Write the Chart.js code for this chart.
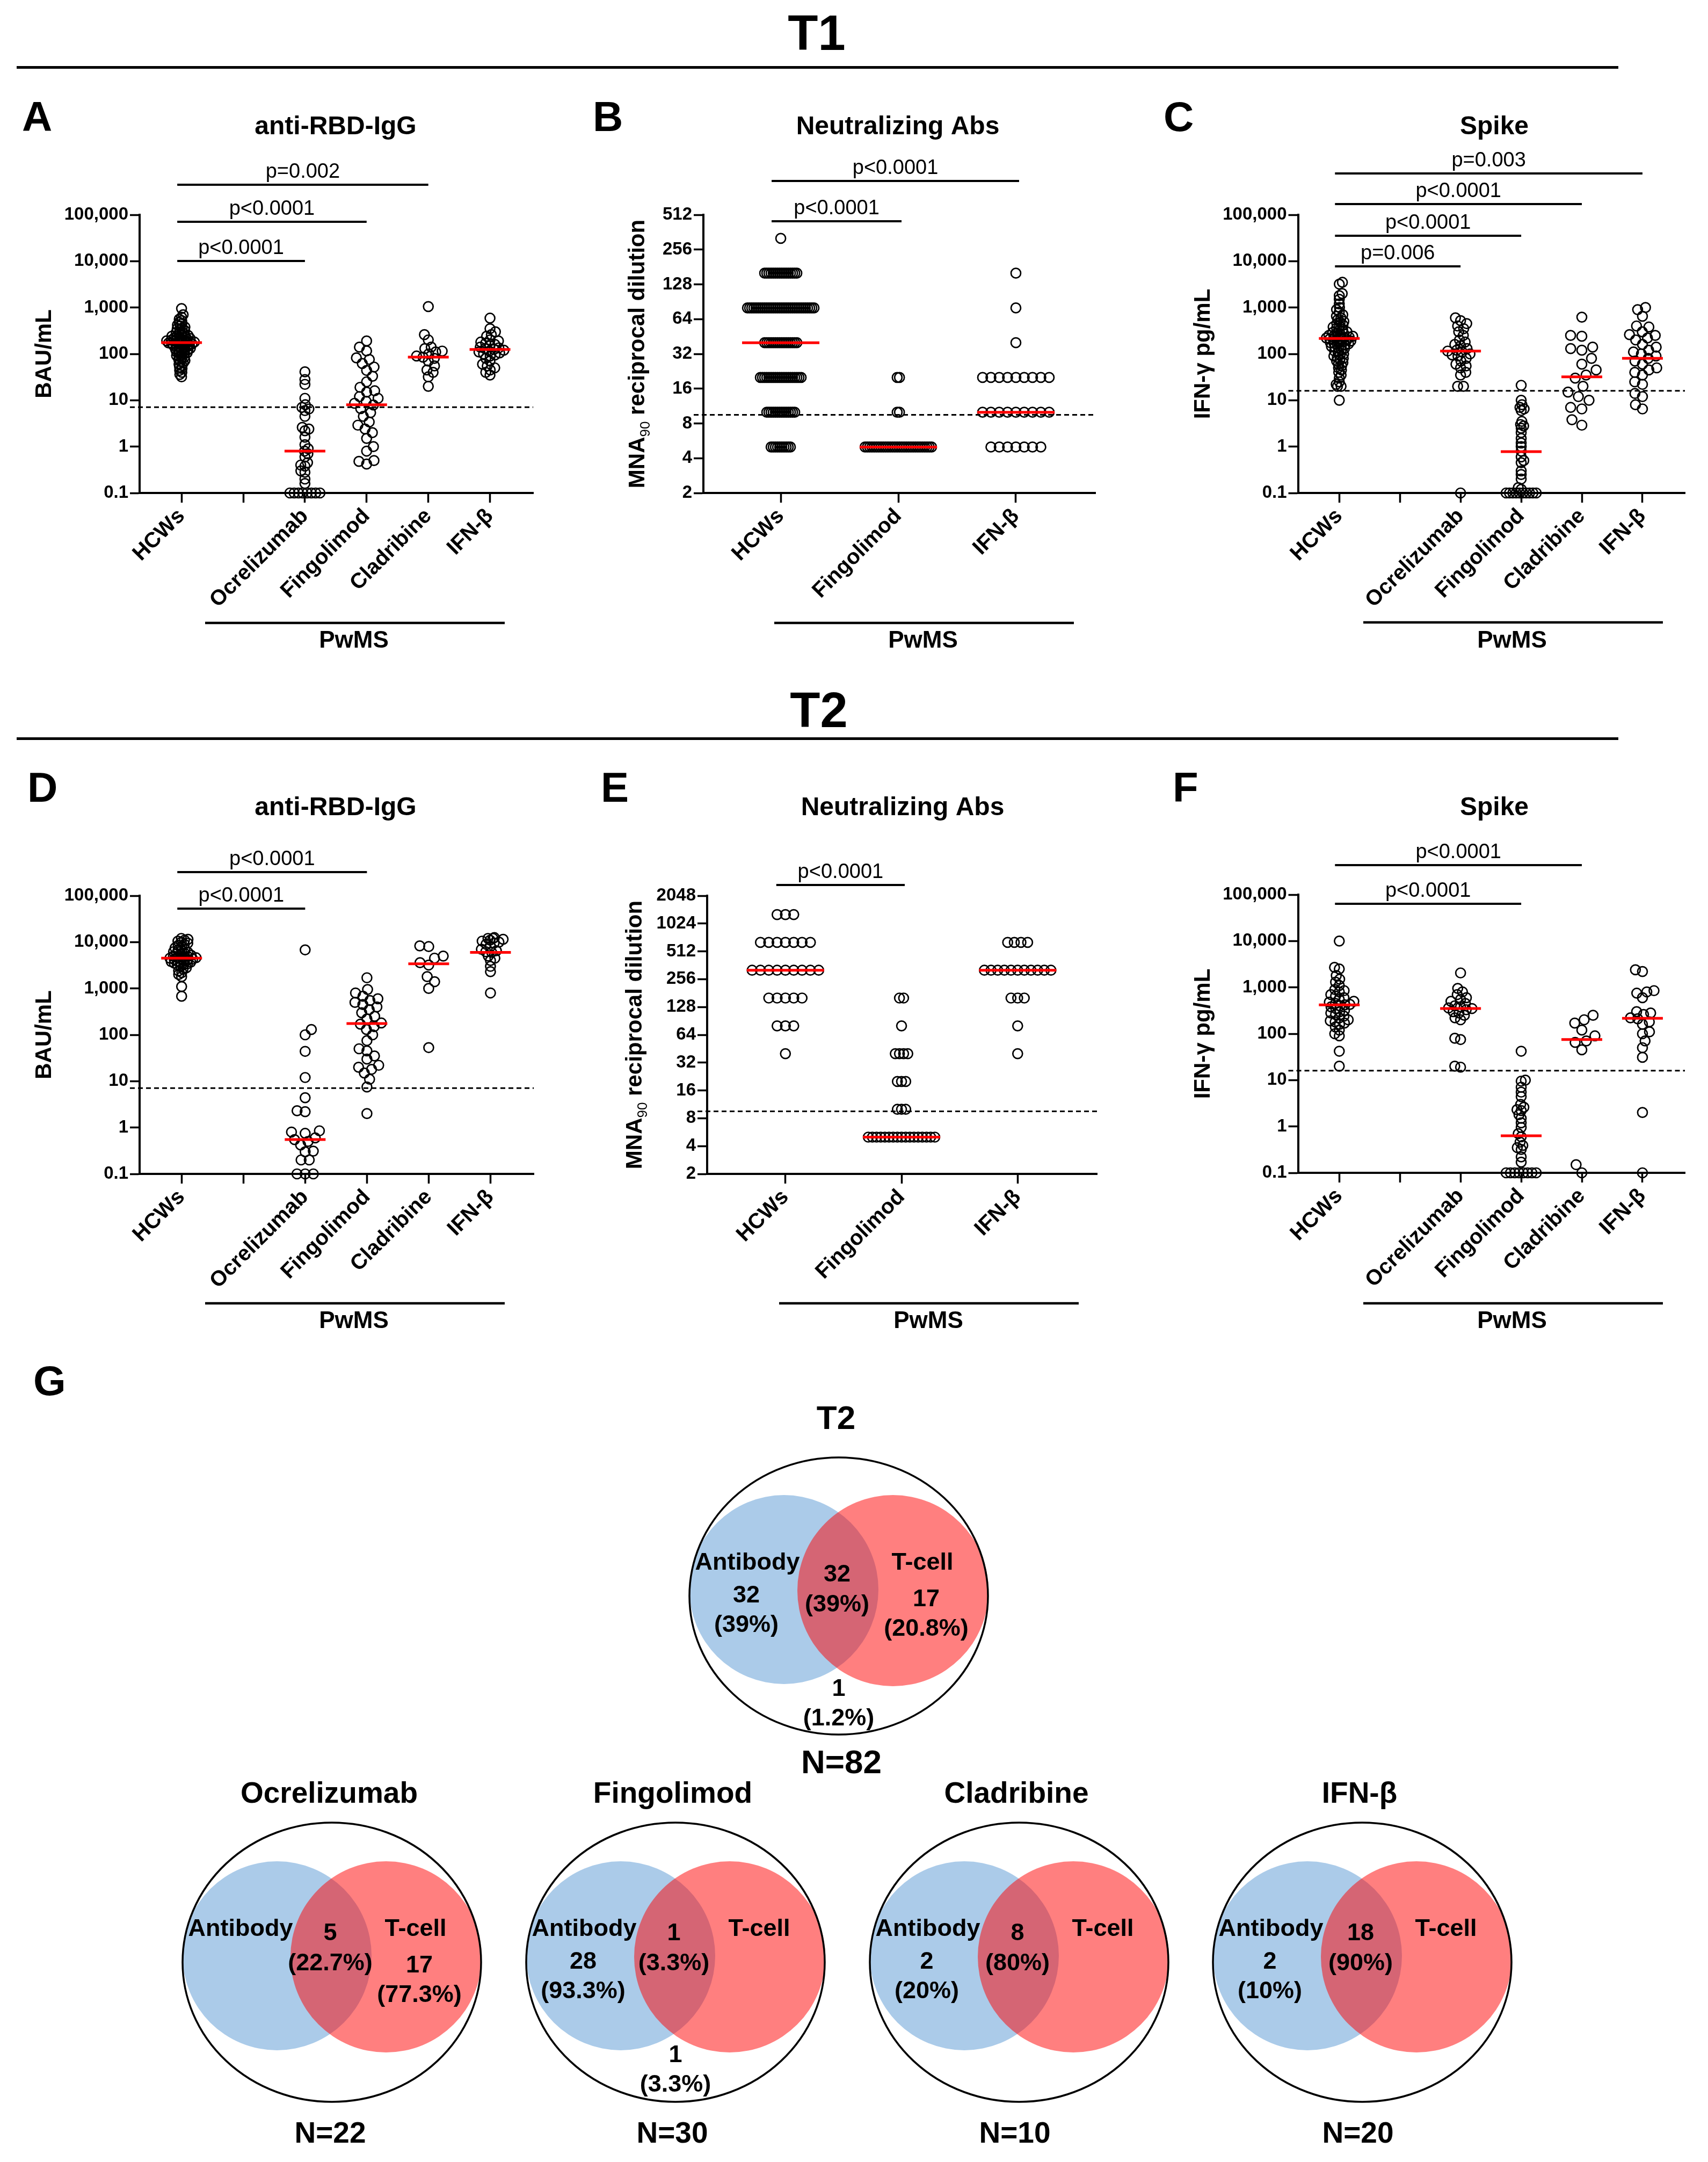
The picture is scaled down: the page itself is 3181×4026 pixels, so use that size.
<!DOCTYPE html>
<html>
<head>
<meta charset="utf-8">
<script src="https://cdn.jsdelivr.net/npm/chart.js"></script>
<style>
  body { margin:0; background:#fff; width:3181px; height:4026px; position:relative; overflow:hidden;
         font-family:'Liberation Sans', Arial, sans-serif; }
  canvas { position:absolute; }
  .hd { position:absolute; width:400px; text-align:center; font-weight:bold; font-size:92px; line-height:92px; }
  .rule { position:absolute; left:31px; width:2983px; height:5px; background:#000; }
</style>
</head>
<body>
<div class="hd" style="left:1321px;top:15px">T1</div>
<div class="rule" style="top:123px"></div>
<div class="hd" style="left:1325px;top:1276px">T2</div>
<div class="rule" style="top:1373px"></div>

<canvas id="cA" width="1060" height="1110" style="left:0px;top:140px"></canvas>
<canvas id="cB" width="1060" height="1110" style="left:1060px;top:140px"></canvas>
<canvas id="cC" width="1061" height="1110" style="left:2120px;top:140px"></canvas>
<canvas id="cD" width="1060" height="1110" style="left:0px;top:1400px"></canvas>
<canvas id="cE" width="1060" height="1110" style="left:1060px;top:1400px"></canvas>
<canvas id="cF" width="1061" height="1110" style="left:2120px;top:1400px"></canvas>
<canvas id="cG" width="3181" height="1516" style="left:0px;top:2510px"></canvas>

<script>
// ---------- data ----------
var catsAll = ['HCWs', '', 'Ocrelizumab', 'Fingolimod', 'Cladribine', 'IFN-β'];
var catsNab = ['HCWs', 'Fingolimod', 'IFN-β'];
var groupLabel = 'PwMS';

var ticksLog10 = [0.1, 1, 10, 100, 1000, 10000, 100000];
var ticksNabT1 = [2, 4, 8, 16, 32, 64, 128, 256, 512];
var ticksNabT2 = [2, 4, 8, 16, 32, 64, 128, 256, 512, 1024, 2048];

var cutoffIgG = 7.1;
var cutoffNab = 9.5;
var cutoffIfn = 16;

// A: anti-RBD-IgG T1 (BAU/mL)
var iggT1_hcw = [950, 700, 620, 560, 520, 480, 450, 420, 400, 380, 360, 350, 330, 320, 300, 290, 280, 270, 260, 250,
  245, 240, 235, 230, 225, 220, 215, 210, 205, 200, 198, 195, 192, 190, 185, 182, 180, 178, 175, 172, 170, 168, 165,
  162, 160, 156, 152, 150, 146, 142, 140, 136, 132, 130, 126, 122, 120, 116, 112, 110, 106, 102, 100, 96, 92, 88, 84,
  80, 76, 72, 68, 64, 60, 56, 52, 48, 44, 40, 36, 32];
var iggT1_ocr = [41, 28, 22, 11, 8, 7, 6.5, 6, 4.5, 2.6, 2.4, 2.2, 1.6, 1.1, 0.9, 0.8, 0.7, 0.6, 0.45, 0.4, 0.38, 0.3,
  0.28, 0.2, 0.16, 0.1, 0.1, 0.1, 0.1, 0.1, 0.1, 0.1, 0.1];
var iggT1_fin = [190, 140, 116, 82, 76, 62, 52, 44, 33, 25, 19, 16, 15, 12, 11, 9.5, 8.6, 7.9, 6.6, 5.4, 4.5, 3.4, 2.9,
  2.4, 2.0, 1.5, 1.0, 0.8, 0.5, 0.48, 0.42];
var iggT1_cla = [1050, 260, 200, 140, 130, 115, 110, 100, 90, 85, 80, 70, 55, 45, 40, 32, 20];
var iggT1_ifn = [590, 350, 300, 260, 240, 200, 190, 180, 170, 160, 150, 140, 135, 130, 125, 120, 115, 110, 105, 100,
  95, 90, 80, 70, 60, 55, 50, 45, 40, 35];
var iggT1_median = [175, null, 0.8, 8, 85, 125];
var iggT1_pairs = [[0, 2], [0, 3], [0, 4]];
var iggT1_p = ['p<0.0001', 'p<0.0001', 'p=0.002'];

// B: neutralizing Abs T1 (titer frequency table)
var nabTiters = [5, 10, 20, 40, 80, 160, 320, 640, 1280];
var nabT1_hcwN = [10, 14, 20, 16, 32, 16, 1, 0, 0];
var nabT1_finN = [30, 2, 2, 0, 0, 0, 0, 0, 0];
var nabT1_ifnN = [7, 9, 9, 1, 1, 1, 0, 0, 0];
var nabT1_median = [40, 5, 10];
var nabT1_pairs = [[0, 1], [0, 2]];
var nabT1_p = ['p<0.0001', 'p<0.0001'];

// C: Spike IFN-gamma T1 (pg/mL)
var ifnT1_hcw = [3500, 3200, 2000, 1800, 1500, 1200, 1000, 900, 800, 700, 650, 600, 550, 500, 480, 450, 420, 400, 380,
  360, 340, 320, 300, 290, 280, 270, 260, 250, 245, 240, 235, 230, 225, 220, 215, 210, 205, 200, 195, 190, 185, 180,
  175, 170, 165, 160, 155, 150, 145, 140, 135, 130, 120, 115, 110, 100, 95, 90, 85, 80, 75, 70, 65, 60, 55, 50, 45, 40,
  35, 30, 25, 22, 20, 20, 10];
var ifnT1_ocr = [600, 520, 450, 400, 350, 300, 250, 200, 180, 160, 150, 130, 120, 115, 110, 100, 95, 90, 80, 70, 60, 55,
  50, 40, 35, 20, 20, 0.1];
var ifnT1_fin = [21, 10, 8, 7, 6.5, 6, 3.5, 3, 2.8, 2.5, 2, 1.5, 1.2, 1, 0.8, 0.6, 0.5, 0.45, 0.3, 0.25, 0.2, 0.13, 0.12,
  0.1, 0.1, 0.1, 0.1, 0.1, 0.1, 0.1, 0.1, 0.1, 0.1];
var ifnT1_cla = [620, 250, 240, 140, 130, 120, 80, 60, 45, 35, 30, 20, 15, 12, 10, 7, 6.5, 3.8, 2.9];
var ifnT1_ifn = [1000, 900, 650, 400, 380, 300, 260, 250, 220, 200, 160, 140, 120, 110, 100, 90, 80, 70, 60, 50, 45, 40,
  35, 25, 22, 14, 12, 8, 6.5];
var ifnT1_median = [215, null, 115, 0.78, 32, 80];
var ifnT1_pairs = [[0, 2], [0, 3], [0, 4], [0, 5]];
var ifnT1_p = ['p=0.006', 'p<0.0001', 'p<0.0001', 'p=0.003'];

// D: anti-RBD-IgG T2
var iggT2_hcw = [12000, 11500, 11000, 10500, 10000, 9500, 9000, 8500, 8000, 7500, 7000, 6800, 6500, 6200, 6000, 5800,
  5600, 5400, 5200, 5000, 4900, 4800, 4700, 4600, 4500, 4400, 4300, 4200, 4100, 4000, 3900, 3800, 3700, 3600, 3500,
  3400, 3300, 3200, 3000, 2800, 2600, 2400, 2200, 2000, 1800, 1100, 680];
var iggT2_ocr = [6800, 130, 100, 44, 12, 4.4, 2.3, 2.2, 0.85, 0.8, 0.75, 0.6, 0.55, 0.5, 0.42, 0.31, 0.3, 0.2, 0.2, 0.1,
  0.1, 0.1];
var iggT2_fin = [1700, 950, 800, 680, 600, 550, 500, 450, 400, 350, 300, 250, 220, 180, 170, 150, 130, 100, 75, 50, 45,
  35, 30, 22, 20, 18, 15, 11, 7.5, 2];
var iggT2_cla = [8300, 8000, 5000, 4500, 3600, 3200, 1800, 1400, 1000, 53];
var iggT2_ifn = [12500, 12000, 12000, 11500, 11000, 10500, 10000, 9500, 9000, 8000, 7000, 6500, 6200, 6000, 5000, 4500,
  4000, 3000, 2300, 800];
var iggT2_median = [4500, null, 0.55, 175, 3400, 6000];
var iggT2_pairs = [[0, 2], [0, 3]];
var iggT2_p = ['p<0.0001', 'p<0.0001'];

// E: neutralizing Abs T2
var nabT2_hcwN = [0, 0, 0, 1, 3, 5, 9, 7, 3];
var nabT2_finN = [17, 3, 3, 4, 1, 2, 0, 0, 0];
var nabT2_ifnN = [0, 0, 0, 1, 1, 3, 11, 4, 0];
var nabT2_median = [320, 5, 320];
var nabT2_pairs = [[0, 1]];
var nabT2_p = ['p<0.0001'];

// F: Spike IFN-gamma T2
var ifnT2_hcw = [10000, 2700, 2500, 1800, 1500, 1300, 1100, 900, 850, 800, 700, 650, 600, 550, 500, 480, 450, 430, 420,
  400, 380, 350, 320, 300, 280, 260, 240, 220, 200, 190, 180, 170, 160, 140, 120, 100, 90, 42, 20];
var ifnT2_ocr = [2050, 950, 800, 700, 600, 550, 500, 450, 400, 380, 360, 350, 330, 300, 280, 250, 220, 200, 80, 75, 20, 19];
var ifnT2_fin = [42, 10, 9.5, 7, 5.5, 4.4, 3, 2.6, 2.3, 2.2, 1.8, 1.5, 1.2, 0.95, 0.7, 0.6, 0.46, 0.39, 0.35, 0.32, 0.22,
  0.17, 0.1, 0.1, 0.1, 0.1, 0.1, 0.1, 0.1, 0.1];
var ifnT2_cla = [250, 200, 170, 120, 90, 70, 65, 45, 0.15, 0.1];
var ifnT2_ifn = [2400, 2200, 850, 800, 750, 600, 300, 280, 260, 220, 210, 180, 160, 110, 100, 70, 50, 31, 2, 0.1];
var ifnT2_median = [420, null, 350, 0.63, 75, 215];
var ifnT2_pairs = [[0, 3], [0, 4]];
var ifnT2_p = ['p<0.0001', 'p<0.0001'];

// G: Venn T2
var vennTitles = ['T2', 'Ocrelizumab', 'Fingolimod', 'Cladribine', 'IFN-β'];
var vennN = [82, 22, 30, 10, 20];
var vennAbOnly = [32, null, 28, 2, 2];
var vennAbOnlyPct = ['39%', null, '93.3%', '20%', '10%'];
var vennBoth = [32, 5, 1, 8, 18];
var vennBothPct = ['39%', '22.7%', '3.3%', '80%', '90%'];
var vennTOnly = [17, 17, null, null, null];
var vennTOnlyPct = ['20.8%', '77.3%', null, null, null];
var vennNone = [1, null, 1, null, null];
var vennNonePct = ['1.2%', null, '3.3%', null, null];

// ---------- drawing ----------
var FONT = "'Liberation Sans', Arial, sans-serif";
Chart.defaults.font.family = FONT;
Chart.defaults.color = '#000';

function expand(titers, counts) {
  var out = [];
  counts.forEach(function (n, i) { for (var k = 0; k < n; k++) out.push(titers[i]); });
  return out;
}

function fmtComma(v) { return Number(v).toLocaleString('en-US'); }
function fmtPlain(v) { return String(v); }

function swarmOnce(py, D) {
  var n = py.length, order = [];
  for (var i = 0; i < n; i++) order.push(i);
  order.sort(function (a, b) { return (py[b] - py[a]) || (a - b); });
  var placed = [], off = new Array(n), side = 1;
  order.forEach(function (i) {
    var y = py[i], near = [];
    placed.forEach(function (p) { if (Math.abs(p.y - y) < D) near.push(p); });
    var cands = [0];
    near.forEach(function (p) {
      var dx = Math.sqrt(D * D - (p.y - y) * (p.y - y));
      cands.push(p.x + dx, p.x - dx);
    });
    var best = null;
    cands.forEach(function (c) {
      for (var k = 0; k < near.length; k++) {
        var ddx = near[k].x - c, ddy = near[k].y - y;
        if (ddx * ddx + ddy * ddy < D * D - 0.5) return;
      }
      if (best === null) { best = c; return; }
      var d = Math.abs(c) - Math.abs(best);
      if (d < -0.01 || (Math.abs(d) <= 0.01 && c * side > best * side)) best = c;
    });
    side = -side;
    off[i] = best;
    placed.push({ x: best, y: y });
  });
  // centre rows of equal values
  var rows = {};
  for (var j = 0; j < n; j++) {
    var key = py[j].toFixed(2);
    (rows[key] = rows[key] || []).push(j);
  }
  Object.keys(rows).forEach(function (key) {
    var r = rows[key];
    if (r.length < 2) return;
    var m = 0;
    r.forEach(function (i) { m += off[i]; });
    m /= r.length;
    r.forEach(function (i) { off[i] -= m; });
  });
  return off;
}

function fitSwarm(py, D, half) {
  var off;
  for (var k = 0; k < 90; k++) {
    off = swarmOnce(py, D);
    var m = 0;
    off.forEach(function (o) { m = Math.max(m, Math.abs(o)); });
    if (m <= half + 0.5) break;
    D *= Math.max(0.85, Math.min(0.98, half / m));
  }
  return off;
}

function drawRotated(ctx, segs, cx, cy, size) {
  ctx.save();
  ctx.translate(cx, cy);
  ctx.rotate(-Math.PI / 2);
  var w = 0;
  segs.forEach(function (s) {
    ctx.font = (s[1] ? '' : 'bold ') + (s[1] ? size * 0.62 : size) + 'px ' + FONT;
    w += ctx.measureText(s[0]).width;
  });
  var x = -w / 2;
  ctx.textAlign = 'left';
  ctx.textBaseline = 'alphabetic';
  segs.forEach(function (s) {
    ctx.font = (s[1] ? '' : 'bold ') + (s[1] ? size * 0.62 : size) + 'px ' + FONT;
    ctx.fillText(s[0], x, size * 0.36 + (s[1] ? size * 0.24 : 0));
    x += ctx.measureText(s[0]).width;
  });
  ctx.restore();
}

function deco(cfg) {
  var L = cfg.lay;
  return {
    id: 'deco' + cfg.id,
    afterLayout: function (chart) {
      var xs = chart.scales.x, ys = chart.scales.y;
      var pts = chart.data.datasets[1].data;
      var byG = {};
      pts.forEach(function (p) { (byG[p.g] = byG[p.g] || []).push(p); });
      Object.keys(byG).forEach(function (g) {
        var arr = byG[g];
        var py = arr.map(function (p) { return ys.getPixelForValue(p.y); });
        var off = fitSwarm(py, L.d0, L.half);
        var cx = xs.getPixelForValue(+g);
        arr.forEach(function (p, i) { p.x = xs.getValueForPixel(cx + off[i]); });
      });
    },
    beforeDatasetsDraw: function (chart) {
      var ctx = chart.ctx, a = chart.chartArea;
      var y = chart.scales.y.getPixelForValue(cfg.threshold);
      ctx.save();
      ctx.setLineDash([9, 6]);
      ctx.lineWidth = 3;
      ctx.strokeStyle = '#000';
      ctx.beginPath();
      ctx.moveTo(a.left - 18, y);
      ctx.lineTo(a.right, y);
      ctx.stroke();
      ctx.restore();
    },
    afterDraw: function (chart) {
      var ctx = chart.ctx, xs = chart.scales.x, a = chart.chartArea;
      ctx.save();
      ctx.fillStyle = '#000';
      ctx.strokeStyle = '#000';
      ctx.font = 'bold 78px ' + FONT;
      ctx.textAlign = 'left';
      ctx.textBaseline = 'alphabetic';
      ctx.fillText(cfg.letter, L.letter[0], L.letter[1]);
      ctx.font = 'bold 48px ' + FONT;
      ctx.textAlign = 'center';
      ctx.textBaseline = 'middle';
      ctx.fillText(cfg.title, L.title[0], L.title[1]);
      drawRotated(ctx, cfg.ytitle, L.ytitle[0], L.ytitle[1], 42);
      ctx.lineWidth = 4;
      cfg.pairs.forEach(function (pr, k) {
        var x1 = xs.getPixelForValue(pr[0]) + L.barPad[0];
        var x2 = xs.getPixelForValue(pr[1]) + L.barPad[1];
        var y = a.top + L.bars[k];
        ctx.beginPath();
        ctx.moveTo(x1, y);
        ctx.lineTo(x2, y);
        ctx.stroke();
        ctx.font = '38px ' + FONT;
        ctx.textAlign = 'center';
        ctx.textBaseline = 'alphabetic';
        ctx.fillText(cfg.pvals[k], (x1 + x2) / 2, y - 13);
      });
      ctx.lineWidth = 4.5;
      ctx.beginPath();
      ctx.moveTo(L.pw[0], L.pw[2]);
      ctx.lineTo(L.pw[1], L.pw[2]);
      ctx.stroke();
      ctx.font = 'bold 44px ' + FONT;
      ctx.textAlign = 'center';
      ctx.textBaseline = 'middle';
      ctx.fillText(groupLabel, L.pw[3], L.pw[4]);
      ctx.restore();
    }
  };
}

function panelChart(cfg) {
  var cv = document.getElementById(cfg.id);
  var W = cv.width, H = cv.height, L = cfg.lay;
  var pts = [];
  cfg.groups.forEach(function (vals, g) {
    if (!vals) return;
    vals.forEach(function (v) { pts.push({ x: g, y: v, g: g }); });
  });
  var meds = [];
  cfg.medians.forEach(function (m, g) { if (m != null) meds.push({ x: g, y: m }); });
  return new Chart(cv, {
    type: 'scatter',
    data: {
      datasets: [
        { data: meds, parsing: false, pointStyle: 'line', radius: L.medR, borderColor: '#ff0000',
          borderWidth: 5, order: 0, clip: false },
        { data: pts, parsing: false, pointStyle: 'circle', radius: 9, borderColor: '#000',
          backgroundColor: 'rgba(0,0,0,0)', borderWidth: 2.7, order: 1, clip: false }
      ]
    },
    options: {
      responsive: false, animation: false, events: [], devicePixelRatio: 1,
      layout: { padding: { left: 0, top: L.area.t, right: W - L.area.r, bottom: 0 } },
      plugins: { legend: { display: false }, tooltip: { enabled: false } },
      scales: {
        x: {
          type: 'linear', min: L.xMin, max: L.xMax,
          afterBuildTicks: function (s) { s.ticks = cfg.cats.map(function (c, i) { return { value: i }; }); },
          afterFit: function (s) { s.height = H - L.area.b; s.paddingLeft = 0; s.paddingRight = 0; },
          ticks: { autoSkip: false, minRotation: 45, maxRotation: 45, padding: 2, color: '#000',
                   font: { size: 40, weight: 'bold' },
                   callback: function (v) { return cfg.cats[v] || ''; } },
          grid: { drawOnChartArea: false, drawTicks: true, tickLength: 18, tickWidth: 3.5, tickColor: '#000' },
          border: { display: true, width: 4, color: '#000' }
        },
        y: {
          type: 'logarithmic', min: cfg.yTicks[0], max: cfg.yTicks[cfg.yTicks.length - 1],
          afterBuildTicks: function (s) { s.ticks = cfg.yTicks.map(function (v) { return { value: v }; }); },
          afterFit: function (s) { s.width = L.area.l; s.paddingTop = 0; s.paddingBottom = 0; },
          ticks: { autoSkip: false, padding: 3, color: '#000', font: { size: 33, weight: 'bold' },
                   callback: function (v) { return cfg.fmt(v); } },
          grid: { drawOnChartArea: false, drawTicks: true, tickLength: 18, tickWidth: 3.5, tickColor: '#000' },
          border: { display: true, width: 4, color: '#000' }
        }
      }
    },
    plugins: [deco(cfg)]
  });
}

var layA = { area: { l: 260, r: 993, t: 260, b: 778 }, xMin: -0.68, xMax: 5.7, letter: [41, 104], title: [625, 97],
  ytitle: [80, 519], bars: [86, 13, -56], barPad: [-8, 0], pw: [382, 940, 1020, 659, 1054], medR: 38, half: 28, d0: 21 };
var layB = { area: { l: 250, r: 980, t: 260, b: 778 }, xMin: -0.658, xMax: 2.676, letter: [44, 104], title: [612, 97],
  ytitle: [125, 519], bars: [12, -63], barPad: [-17, 6], pw: [382, 940, 1020, 659, 1054], medR: 72, half: 62, d0: 17 };
var layC = { area: { l: 297.5, r: 1031, t: 260, b: 778 }, xMin: -0.68, xMax: 5.7, letter: [47, 104], title: [663, 97],
  ytitle: [118, 519], bars: [96, 39, -20, -77], barPad: [-8, 0], pw: [419, 977, 1019, 696, 1054], medR: 38, half: 28, d0: 21 };
var layD = { area: { l: 260, r: 994, t: 268, b: 786 }, xMin: -0.68, xMax: 5.7, letter: [51, 93], title: [625, 105],
  ytitle: [80, 527], bars: [24, -44], barPad: [-8, 0], pw: [382, 940, 1027, 659, 1061], medR: 38, half: 28, d0: 21 };
var layE = { area: { l: 257, r: 989, t: 268, b: 786 }, xMin: -0.674, xMax: 2.683, letter: [59, 93], title: [621, 105],
  ytitle: [120, 527], bars: [-20], barPad: [-17, 6], pw: [391, 949, 1027, 669, 1061], medR: 72, half: 62, d0: 17 };
var layF = { area: { l: 297.5, r: 1031, t: 266, b: 784 }, xMin: -0.68, xMax: 5.7, letter: [64, 93], title: [663, 105],
  ytitle: [118, 525], bars: [17, -55], barPad: [-8, 0], pw: [419, 977, 1027, 696, 1061], medR: 38, half: 28, d0: 21 };

panelChart({ id: 'cA', cats: catsAll, groups: [iggT1_hcw, null, iggT1_ocr, iggT1_fin, iggT1_cla, iggT1_ifn],
  medians: iggT1_median, pairs: iggT1_pairs, pvals: iggT1_p, yTicks: ticksLog10, fmt: fmtComma, threshold: cutoffIgG,
  letter: 'A', title: 'anti-RBD-IgG', ytitle: [['BAU/mL']], lay: layA });
panelChart({ id: 'cB', cats: catsNab,
  groups: [expand(nabTiters, nabT1_hcwN), expand(nabTiters, nabT1_finN), expand(nabTiters, nabT1_ifnN)],
  medians: nabT1_median, pairs: nabT1_pairs, pvals: nabT1_p, yTicks: ticksNabT1, fmt: fmtPlain, threshold: cutoffNab,
  letter: 'B', title: 'Neutralizing Abs', ytitle: [['MNA'], ['90', true], [' reciprocal dilution']], lay: layB });
panelChart({ id: 'cC', cats: catsAll, groups: [ifnT1_hcw, null, ifnT1_ocr, ifnT1_fin, ifnT1_cla, ifnT1_ifn],
  medians: ifnT1_median, pairs: ifnT1_pairs, pvals: ifnT1_p, yTicks: ticksLog10, fmt: fmtComma, threshold: cutoffIfn,
  letter: 'C', title: 'Spike', ytitle: [['IFN-γ pg/mL']], lay: layC });
panelChart({ id: 'cD', cats: catsAll, groups: [iggT2_hcw, null, iggT2_ocr, iggT2_fin, iggT2_cla, iggT2_ifn],
  medians: iggT2_median, pairs: iggT2_pairs, pvals: iggT2_p, yTicks: ticksLog10, fmt: fmtComma, threshold: cutoffIgG,
  letter: 'D', title: 'anti-RBD-IgG', ytitle: [['BAU/mL']], lay: layD });
panelChart({ id: 'cE', cats: catsNab,
  groups: [expand(nabTiters, nabT2_hcwN), expand(nabTiters, nabT2_finN), expand(nabTiters, nabT2_ifnN)],
  medians: nabT2_median, pairs: nabT2_pairs, pvals: nabT2_p, yTicks: ticksNabT2, fmt: fmtPlain, threshold: cutoffNab,
  letter: 'E', title: 'Neutralizing Abs', ytitle: [['MNA'], ['90', true], [' reciprocal dilution']], lay: layE });
panelChart({ id: 'cF', cats: catsAll, groups: [ifnT2_hcw, null, ifnT2_ocr, ifnT2_fin, ifnT2_cla, ifnT2_ifn],
  medians: ifnT2_median, pairs: ifnT2_pairs, pvals: ifnT2_p, yTicks: ticksLog10, fmt: fmtComma, threshold: cutoffIfn,
  letter: 'F', title: 'Spike', ytitle: [['IFN-γ pg/mL']], lay: layF });

// ---------- G: Venn diagrams ----------
var vennLay = [
  { cx: 1562, cy: 462, ry: 258, titleY: 134, nY: 775, nDx: 5, ovDy: -39, titleSize: 62, nSize: 62 },
  { cx: 618, cy: 1144, ry: 260, titleY: 832, nY: 1465, nDx: -3, ovDy: -53, titleSize: 55, nSize: 55 },
  { cx: 1258, cy: 1144, ry: 260, titleY: 832, nY: 1465, nDx: -6, ovDy: -53, titleSize: 55, nSize: 55 },
  { cx: 1898, cy: 1144, ry: 260, titleY: 832, nY: 1465, nDx: -8, ovDy: -53, titleSize: 55, nSize: 55 },
  { cx: 2537, cy: 1144, ry: 260, titleY: 832, nY: 1465, nDx: -8, ovDy: -53, titleSize: 55, nSize: 55 }
];

var vennPlugin = {
  id: 'venn',
  afterDraw: function (chart) {
    var ctx = chart.ctx, xs = chart.scales.x, ys = chart.scales.y;
    function ell(x, y, rx, ry) { ctx.beginPath(); ctx.ellipse(x, y, rx, ry, 0, 0, Math.PI * 2); }
    function txt(s, x, y, size) {
      ctx.font = 'bold ' + size + 'px ' + FONT;
      ctx.fillText(s, x, y);
    }
    ctx.save();
    ctx.fillStyle = '#000';
    ctx.textAlign = 'left';
    ctx.textBaseline = 'alphabetic';
    ctx.font = 'bold 78px ' + FONT;
    ctx.fillText('G', 62, 88);
    vennLay.forEach(function (v, k) {
      var cx = xs.getPixelForValue(v.cx), cy = ys.getPixelForValue(v.cy);
      ctx.fillStyle = 'rgb(171,203,233)';
      ell(cx - 102, cy - 12, 176, 176);
      ctx.fill();
      ctx.fillStyle = 'rgba(255,0,0,0.5)';
      ell(cx + 101, cy - 10, 178, 178);
      ctx.fill();
      ctx.strokeStyle = '#000';
      ctx.lineWidth = 3.5;
      ell(cx, cy, 278, v.ry);
      ctx.stroke();

      ctx.fillStyle = '#000';
      ctx.textAlign = 'center';
      ctx.textBaseline = 'middle';
      txt(vennTitles[k], cx - 5, ys.getPixelForValue(v.titleY), v.titleSize);
      txt('N=' + vennN[k], cx + v.nDx, ys.getPixelForValue(v.nY), v.nSize);
      txt('Antibody', cx - 170, cy - 61, 45);
      txt('T-cell', cx + 156, cy - 61, 45);
      if (vennAbOnly[k] != null) {
        txt(String(vennAbOnly[k]), cx - 172, cy, 45);
        txt('(' + vennAbOnlyPct[k] + ')', cx - 172, cy + 55, 45);
      }
      txt(String(vennBoth[k]), cx - 3, cy + v.ovDy, 45);
      txt('(' + vennBothPct[k] + ')', cx - 3, cy + v.ovDy + 56, 45);
      if (vennTOnly[k] != null) {
        txt(String(vennTOnly[k]), cx + 163, cy + 7, 45);
        txt('(' + vennTOnlyPct[k] + ')', cx + 163, cy + 62, 45);
      }
      if (vennNone[k] != null) {
        txt(String(vennNone[k]), cx, cy + 174, 45);
        txt('(' + vennNonePct[k] + ')', cx, cy + 229, 45);
      }
    });
    ctx.restore();
  }
};

new Chart(document.getElementById('cG'), {
  type: 'scatter',
  data: { datasets: [] },
  options: {
    responsive: false, animation: false, events: [], devicePixelRatio: 1,
    layout: { padding: 0 },
    plugins: { legend: { display: false }, tooltip: { enabled: false } },
    scales: {
      x: { type: 'linear', display: false, min: 0, max: 3181 },
      y: { type: 'linear', display: false, min: 0, max: 1516, reverse: true }
    }
  },
  plugins: [vennPlugin]
});
</script>
</body>
</html>
